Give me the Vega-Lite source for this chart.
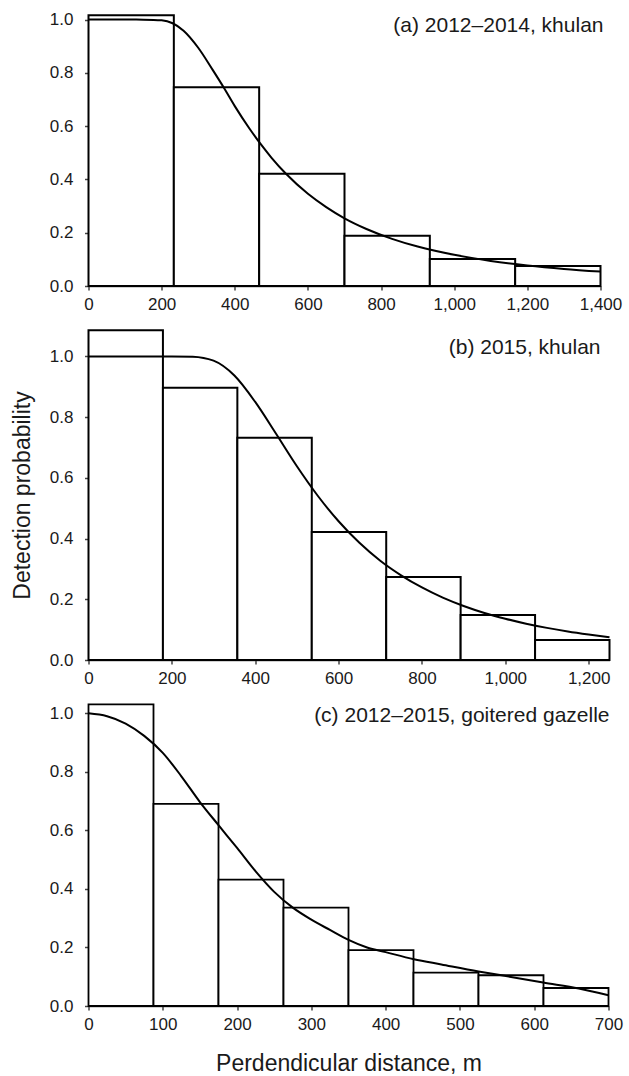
{
  "$schema": "https://vega.github.io/schema/vega-lite/v6.json",
  "background": "white",
  "padding": {"left": 10.5, "top": 10, "right": 5, "bottom": 2},
  "spacing": 44,
  "bounds": "flush",
  "config": {
    "view": {"stroke": null},
    "font": "Liberation Sans",
    "axis": {
      "labelFont": "Liberation Sans", "labelFontSize": 17, "labelColor": "#1a1a1a",
      "titleFont": "Liberation Sans", "titleFontSize": 23, "titleFontWeight": "normal", "titleColor": "#1a1a1a",
      "domainColor": "#444", "domainWidth": 1.5, "tickColor": "#444", "tickSize": 4, "tickWidth": 1.5,
      "grid": false, "labelFlush": false, "labelOverlap": false
    },
    "axisX": {"labelPadding": 6},
    "axisY": {"labelPadding": 11.5, "titlePadding": 15}
  },
  "datasets": {
    "bars_a": [
      {"x0": 0, "x1": 233.33, "p": 1.016},
      {"x0": 233.33, "x1": 466.67, "p": 0.746},
      {"x0": 466.67, "x1": 700, "p": 0.421},
      {"x0": 700, "x1": 933.33, "p": 0.189},
      {"x0": 933.33, "x1": 1166.67, "p": 0.101},
      {"x0": 1166.67, "x1": 1400, "p": 0.075}
    ],
    "curve_a": [
      {"d": 0, "g": 1.0}, {"d": 50, "g": 1.0}, {"d": 100, "g": 1.0}, {"d": 150, "g": 0.9995},
      {"d": 200, "g": 0.997}, {"d": 230, "g": 0.986}, {"d": 260, "g": 0.958}, {"d": 300, "g": 0.894},
      {"d": 340, "g": 0.81}, {"d": 371, "g": 0.742}, {"d": 400, "g": 0.675}, {"d": 440, "g": 0.591},
      {"d": 470, "g": 0.534}, {"d": 500, "g": 0.482}, {"d": 540, "g": 0.421}, {"d": 600, "g": 0.346},
      {"d": 650, "g": 0.296}, {"d": 700, "g": 0.254}, {"d": 760, "g": 0.214}, {"d": 830, "g": 0.177},
      {"d": 900, "g": 0.148}, {"d": 1000, "g": 0.117}, {"d": 1100, "g": 0.094}, {"d": 1200, "g": 0.077},
      {"d": 1300, "g": 0.064}, {"d": 1400, "g": 0.054}
    ],
    "bars_b": [
      {"x0": 0, "x1": 178.57, "p": 1.086},
      {"x0": 178.57, "x1": 357.14, "p": 0.897},
      {"x0": 357.14, "x1": 535.71, "p": 0.732},
      {"x0": 535.71, "x1": 714.29, "p": 0.422},
      {"x0": 714.29, "x1": 892.86, "p": 0.273},
      {"x0": 892.86, "x1": 1071.43, "p": 0.148},
      {"x0": 1071.43, "x1": 1250, "p": 0.066}
    ],
    "curve_b": [
      {"d": 0, "g": 1.0}, {"d": 100, "g": 1.0}, {"d": 200, "g": 1.0}, {"d": 250, "g": 0.999},
      {"d": 300, "g": 0.986}, {"d": 350, "g": 0.937}, {"d": 400, "g": 0.85}, {"d": 450, "g": 0.745},
      {"d": 500, "g": 0.638}, {"d": 550, "g": 0.541}, {"d": 600, "g": 0.457}, {"d": 650, "g": 0.386},
      {"d": 700, "g": 0.327}, {"d": 750, "g": 0.279}, {"d": 800, "g": 0.239}, {"d": 850, "g": 0.2055},
      {"d": 900, "g": 0.178}, {"d": 950, "g": 0.155}, {"d": 1000, "g": 0.136}, {"d": 1050, "g": 0.1196},
      {"d": 1100, "g": 0.1058}, {"d": 1150, "g": 0.094}, {"d": 1200, "g": 0.084}, {"d": 1250, "g": 0.075}
    ],
    "bars_c": [
      {"x0": 0, "x1": 87.5, "p": 1.031},
      {"x0": 87.5, "x1": 175, "p": 0.691},
      {"x0": 175, "x1": 262.5, "p": 0.432},
      {"x0": 262.5, "x1": 350, "p": 0.336},
      {"x0": 350, "x1": 437.5, "p": 0.191},
      {"x0": 437.5, "x1": 525, "p": 0.114},
      {"x0": 525, "x1": 612.5, "p": 0.105},
      {"x0": 612.5, "x1": 700, "p": 0.0615}
    ],
    "curve_c": [
      {"d": 0, "g": 1.0}, {"d": 25, "g": 0.99}, {"d": 50, "g": 0.965}, {"d": 75, "g": 0.923},
      {"d": 100, "g": 0.865}, {"d": 125, "g": 0.785}, {"d": 150, "g": 0.697}, {"d": 175, "g": 0.618},
      {"d": 200, "g": 0.54}, {"d": 225, "g": 0.46}, {"d": 250, "g": 0.39}, {"d": 275, "g": 0.336},
      {"d": 300, "g": 0.295}, {"d": 325, "g": 0.26}, {"d": 350, "g": 0.226}, {"d": 375, "g": 0.2},
      {"d": 400, "g": 0.184}, {"d": 438, "g": 0.16}, {"d": 475, "g": 0.142}, {"d": 525, "g": 0.118},
      {"d": 560, "g": 0.103}, {"d": 612, "g": 0.08}, {"d": 660, "g": 0.06}, {"d": 700, "g": 0.037}
    ]
  },
  "vconcat": [
    {
      "width": 512, "height": 271,
      "layer": [
        {
          "data": {"name": "bars_a"},
          "mark": {"type": "rect", "fill": "white", "stroke": "black", "strokeWidth": 2},
          "encoding": {
            "x": {"field": "x0", "type": "quantitative", "scale": {"domain": [0, 1400], "nice": false},
                  "axis": {"values": [0, 200, 400, 600, 800, 1000, 1200, 1400], "format": ",d", "title": null}},
            "x2": {"field": "x1"},
            "y": {"field": "p", "type": "quantitative", "scale": {"domain": [0, 1.017], "nice": false},
                  "axis": {"values": [0, 0.2, 0.4, 0.6, 0.8, 1.0], "format": ".1f", "title": null}},
            "y2": {"datum": 0}
          }
        },
        {
          "data": {"name": "curve_a"},
          "mark": {"type": "line", "color": "black", "strokeWidth": 2, "interpolate": "monotone"},
          "encoding": {
            "x": {"field": "d", "type": "quantitative"},
            "y": {"field": "g", "type": "quantitative"}
          }
        },
        {
          "data": {"values": [{"label": "(a) 2012–2014, khulan"}]},
          "mark": {"type": "text", "align": "right", "baseline": "alphabetic", "fontSize": 21, "dx": 3, "color": "#1a1a1a", "font": "Liberation Sans"},
          "encoding": {
            "x": {"datum": 1400, "type": "quantitative"},
            "y": {"datum": 0.953, "type": "quantitative"},
            "text": {"field": "label"}
          }
        }
      ]
    },
    {
      "width": 521, "height": 330,
      "layer": [
        {
          "data": {"name": "bars_b"},
          "mark": {"type": "rect", "fill": "white", "stroke": "black", "strokeWidth": 2},
          "encoding": {
            "x": {"field": "x0", "type": "quantitative", "scale": {"domain": [0, 1250], "nice": false},
                  "axis": {"values": [0, 200, 400, 600, 800, 1000, 1200], "format": ",d", "title": null}},
            "x2": {"field": "x1"},
            "y": {"field": "p", "type": "quantitative", "scale": {"domain": [0, 1.087], "nice": false},
                  "axis": {"values": [0, 0.2, 0.4, 0.6, 0.8, 1.0], "format": ".1f", "title": "Detection probability"}},
            "y2": {"datum": 0}
          }
        },
        {
          "data": {"name": "curve_b"},
          "mark": {"type": "line", "color": "black", "strokeWidth": 2, "interpolate": "monotone"},
          "encoding": {
            "x": {"field": "d", "type": "quantitative"},
            "y": {"field": "g", "type": "quantitative"}
          }
        },
        {
          "data": {"values": [{"label": "(b) 2015, khulan"}]},
          "mark": {"type": "text", "align": "right", "baseline": "alphabetic", "fontSize": 21, "dx": -9, "color": "#1a1a1a", "font": "Liberation Sans"},
          "encoding": {
            "x": {"datum": 1250, "type": "quantitative"},
            "y": {"datum": 1.0066, "type": "quantitative"},
            "text": {"field": "label"}
          }
        }
      ]
    },
    {
      "width": 520, "height": 302,
      "layer": [
        {
          "data": {"name": "bars_c"},
          "mark": {"type": "rect", "fill": "white", "stroke": "black", "strokeWidth": 1.8},
          "encoding": {
            "x": {"field": "x0", "type": "quantitative", "scale": {"domain": [0, 700], "nice": false},
                  "axis": {"values": [0, 100, 200, 300, 400, 500, 600, 700], "format": ",d", "title": "Perdendicular distance, m", "titlePadding": 20}},
            "x2": {"field": "x1"},
            "y": {"field": "p", "type": "quantitative", "scale": {"domain": [0, 1.032], "nice": false},
                  "axis": {"values": [0, 0.2, 0.4, 0.6, 0.8, 1.0], "format": ".1f", "title": null}},
            "y2": {"datum": 0}
          }
        },
        {
          "data": {"name": "curve_c"},
          "mark": {"type": "line", "color": "black", "strokeWidth": 2, "interpolate": "monotone"},
          "encoding": {
            "x": {"field": "d", "type": "quantitative"},
            "y": {"field": "g", "type": "quantitative"}
          }
        },
        {
          "data": {"values": [{"label": "(c) 2012–2015, goitered gazelle"}]},
          "mark": {"type": "text", "align": "right", "baseline": "alphabetic", "fontSize": 21, "dx": 1, "color": "#1a1a1a", "font": "Liberation Sans"},
          "encoding": {
            "x": {"datum": 700, "type": "quantitative"},
            "y": {"datum": 0.969, "type": "quantitative"},
            "text": {"field": "label"}
          }
        }
      ]
    }
  ]
}
